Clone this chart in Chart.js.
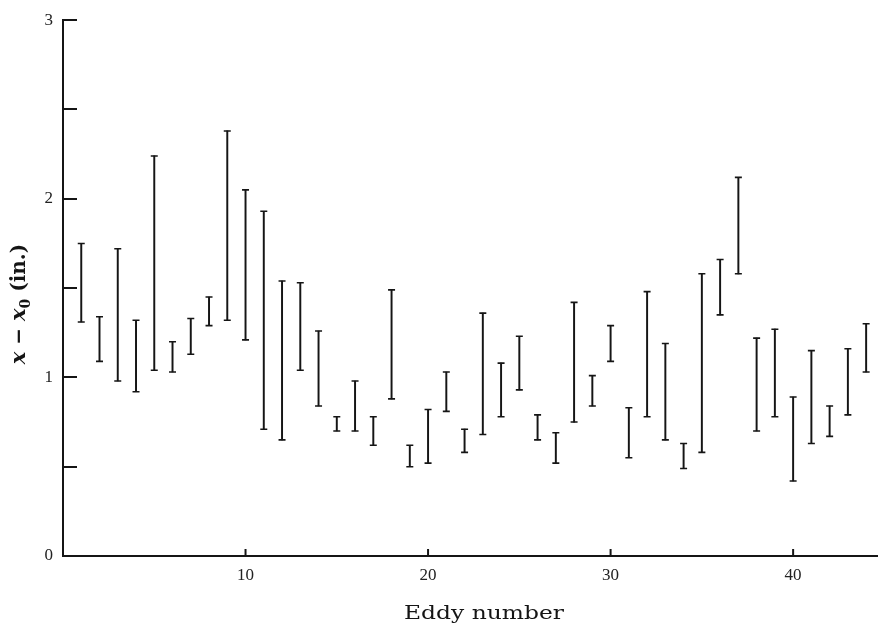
<!DOCTYPE html>
<html>
<head>
<meta charset="utf-8">
<script src="https://cdn.jsdelivr.net/npm/chart.js@4.4.1/dist/chart.umd.min.js"></script>
<style>
  html, body { margin: 0; padding: 0; background: #fff; }
  #wrap { width: 878px; height: 625px; position: relative; }
</style>
</head>
<body>
<div id="wrap"><canvas id="c" width="878" height="625"></canvas></div>
<script>
// Eddy numbers
const eddies = [1,2,3,4,5,6,7,8,9,10,11,12,13,14,15,16,17,18,19,20,21,22,23,24,25,26,27,28,29,30,31,32,33,34,35,36,37,38,39,40,41,42,43,44];
// Upper end of each range, x - x0 (in.)
const highs = [1.75,1.34,1.72,1.32,2.24,1.20,1.33,1.45,2.38,2.05,1.93,1.54,1.53,1.26,0.78,0.98,0.78,1.49,0.62,0.82,1.03,0.71,1.36,1.08,1.23,0.79,0.69,1.42,1.01,1.29,0.83,1.48,1.19,0.63,1.58,1.66,2.12,1.22,1.27,0.89,1.15,0.84,1.16,1.30];
// Lower end of each range
const lows = [1.31,1.09,0.98,0.92,1.04,1.03,1.13,1.29,1.32,1.21,0.71,0.65,1.04,0.84,0.70,0.70,0.62,0.88,0.50,0.52,0.81,0.58,0.68,0.78,0.93,0.65,0.52,0.75,0.84,1.09,0.55,0.78,0.65,0.49,0.58,1.35,1.58,0.70,0.78,0.42,0.63,0.67,0.79,1.03];
// Tick labels
const xTickLabels = [10, 20, 30, 40];
const yTickLabels = [0, 1, 2, 3];
const xTitle = 'Eddy number';

const INK = '#151515';

const rangeData = eddies.map((e, i) => ({ x: e, y: [lows[i], highs[i]] }));
const capData = eddies.map((e, i) => ({ x: e, y: highs[i] }))
  .concat(eddies.map((e, i) => ({ x: e, y: lows[i] })));

const decor = {
  id: 'decor',
  afterDraw(chart) {
    const ctx = chart.ctx;
    const xs = chart.scales.x, ys = chart.scales.y;
    const a = chart.chartArea;
    ctx.save();
    ctx.strokeStyle = INK;
    ctx.lineWidth = 2;
    // inward y ticks (every 0.5)
    ys.ticks.forEach(t => {
      if (t.value <= 0) return;
      const py = Math.round(ys.getPixelForValue(t.value));
      ctx.beginPath();
      ctx.moveTo(a.left, py);
      ctx.lineTo(a.left + 14, py);
      ctx.stroke();
    });
    // inward x ticks
    xTickLabels.forEach(v => {
      const px = xs.getPixelForValue(v);
      ctx.beginPath();
      ctx.moveTo(px, a.bottom);
      ctx.lineTo(px, a.bottom - 7);
      ctx.stroke();
    });
    // x title (slightly stretched like the scanned original)
    ctx.fillStyle = INK;
    ctx.font = '18px "DejaVu Serif"';
    ctx.textBaseline = 'alphabetic';
    ctx.textAlign = 'center';
    ctx.save();
    ctx.translate(484, 619);
    ctx.scale(1.3, 1);
    ctx.fillText(xTitle, 0, 0);
    ctx.restore();
    // y title: x − x0 (in.) rotated, with subscript
    ctx.save();
    ctx.translate(25, 304);
    ctx.rotate(-Math.PI / 2);
    const main = 'bold italic 21px "DejaVu Serif"';
    const sub = 'bold 14px "DejaVu Serif"';
    const paren = 'bold 20px "DejaVu Serif"';
    const parts = [
      { t: 'x', f: main, dy: 0 },
      { t: ' \u2212 ', f: paren, dy: 0 },
      { t: 'x', f: main, dy: 0 },
      { t: '0', f: sub, dy: 5 },
      { t: ' (in.)', f: paren, dy: 0 }
    ];
    let total = 0;
    parts.forEach(p => { ctx.font = p.f; p.w = ctx.measureText(p.t).width; total += p.w; });
    let cx = -total / 2;
    ctx.textAlign = 'left';
    parts.forEach(p => { ctx.font = p.f; ctx.fillText(p.t, cx, p.dy); cx += p.w; });
    ctx.restore();
    ctx.restore();
  }
};

new Chart(document.getElementById('c'), {
  type: 'bar',
  data: {
    datasets: [
      {
        type: 'bar',
        data: rangeData,
        backgroundColor: INK,
        borderWidth: 0,
        barThickness: 1.3,
        order: 2
      },
      {
        type: 'scatter',
        data: capData,
        pointStyle: 'line',
        radius: 3.5,
        borderColor: INK,
        borderWidth: 1.6,
        showLine: false,
        order: 1
      }
    ]
  },
  options: {
    responsive: false,
    animation: false,
    events: [],
    layout: { autoPadding: false, padding: { top: 12, right: 0, left: 0, bottom: 0 } },
    plugins: { legend: { display: false }, tooltip: { enabled: false } },
    scales: {
      x: {
        type: 'linear',
        min: 0,
        max: 44.65,
        offset: false,
        grid: { display: false, drawTicks: false },
        border: { display: true, color: INK, width: 2 },
        ticks: {
          stepSize: 10,
          includeBounds: false,
          autoSkip: false,
          maxRotation: 0,
          padding: 9,
          color: '#222',
          font: { family: '"Liberation Serif"', size: 17 },
          callback: v => (xTickLabels.includes(v) ? String(v) : '')
        },
        afterFit: s => { s.height = 69; }
      },
      y: {
        min: 0,
        max: 3,
        grid: { display: false, drawTicks: false },
        border: { display: true, color: INK, width: 2 },
        ticks: {
          stepSize: 0.5,
          autoSkip: false,
          padding: 10,
          color: '#222',
          font: { family: '"Liberation Serif"', size: 17 },
          callback: v => (yTickLabels.includes(v) ? String(v) : '')
        },
        afterFit: s => { s.width = 63; }
      }
    }
  },
  plugins: [decor]
});
</script>
</body>
</html>
